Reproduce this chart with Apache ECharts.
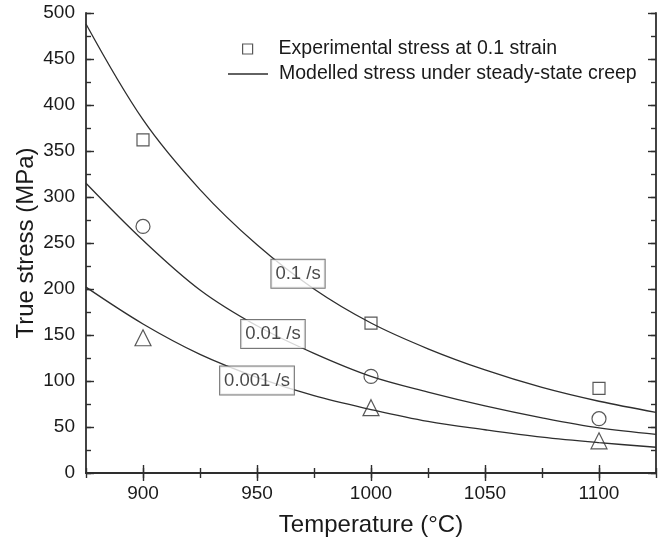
<!DOCTYPE html>
<html>
<head>
<meta charset="utf-8">
<script src="https://cdn.jsdelivr.net/npm/echarts@6/dist/echarts.min.js"></script>
<style>
  html, body { margin: 0; padding: 0; background: #fff; }
  #chart { width: 669px; height: 544px; }
</style>
</head>
<body>
<div id="chart"></div>
<script>
// Temperatures (°C) at which the modelled curves are sampled
const curveTemps = [875, 900, 925, 950, 975, 1000, 1025, 1050, 1075, 1100, 1125];
// Modelled stress under steady-state creep (MPa) for each strain rate
const model01 = [488, 384, 308, 248, 200, 163, 135, 112, 93, 78, 66];
const model001 = [315, 253, 199, 160, 130, 105, 88, 73, 60, 49, 42];
const model0001 = [202, 162, 129, 104, 84, 69, 56, 47, 39, 33, 28];

// Experimental stress at 0.1 strain (MPa)
const testTemps = [900, 1000, 1100];
const exp01 = [362, 163, 92];
const exp001 = [268, 105, 59];
const exp0001 = [147, 71, 35];

// Strain-rate captions and where they sit (temperature, stress)
const rateLabels = ['0.1 /s', '0.01 /s', '0.001 /s'];
const rateLabelTemps = [968, 957, 950];
const rateLabelStress = [216.5, 151, 100.5];

// Axis ticks
const xMajorTicks = [900, 950, 1000, 1050, 1100];

const INK = '#2e2e2e';
const TEXT = '#1a1a1a';
const FONT = '"Liberation Sans", Arial, sans-serif';
const MODEL_NAME = 'Modelled stress under steady-state creep';
const EXP_NAME = 'Experimental stress at 0.1 strain';

const pairs = (xs, ys) => xs.map((x, i) => [x, ys[i]]);

function lineSeries(values) {
  return {
    type: 'line', name: MODEL_NAME, xAxisIndex: 0, yAxisIndex: 0,
    data: pairs(curveTemps, values), smooth: 0.35, symbol: 'none',
    lineStyle: { color: INK, width: 1.3 }, itemStyle: { color: INK }, z: 2
  };
}

function markerSeries(name, symbol, size, values) {
  return {
    type: 'scatter', name: name, xAxisIndex: 0, yAxisIndex: 0,
    data: pairs(testTemps, values), symbol: symbol, symbolSize: size,
    itemStyle: { color: 'rgba(0,0,0,0)', borderColor: INK, borderWidth: 1.2 }, z: 3
  };
}

const labelData = rateLabels.map((t, i) => ({ value: [rateLabelTemps[i], rateLabelStress[i]], text: t }));

const tickStyle = { color: INK, width: 1.4 };
const axisLineStyle = { lineStyle: { color: INK, width: 1.8 } };

// x axes: minor ticks every 25 °C, major ticks every 50 °C, mirrored on top
function xAxisMinor(position, extra) {
  return Object.assign({
    type: 'value', min: 875, max: 1125, interval: 25, position: position,
    splitLine: { show: false }, axisLine: axisLineStyle,
    axisTick: { inside: true, length: 5, lineStyle: tickStyle },
    axisLabel: { show: false }
  }, extra || {});
}
function xAxisMajor(position) {
  return {
    type: 'value', min: 875, max: 1125, position: position,
    splitLine: { show: false }, axisLine: { show: false },
    axisTick: { inside: true, length: 8, customValues: xMajorTicks, lineStyle: tickStyle },
    axisLabel: { show: false }
  };
}
// y axes: minor ticks every 25 MPa, major every 50 MPa, mirrored on the right
function yAxisMajor(position, extra) {
  return Object.assign({
    type: 'value', min: 0, max: 500, interval: 50, position: position,
    splitLine: { show: false }, axisLine: axisLineStyle,
    axisTick: { inside: true, length: 8, lineStyle: tickStyle },
    axisLabel: { show: false }
  }, extra || {});
}
function yAxisMinor(position) {
  return {
    type: 'value', min: 0, max: 500, interval: 25, position: position,
    splitLine: { show: false }, axisLine: { show: false },
    axisTick: { inside: true, length: 5, lineStyle: tickStyle },
    axisLabel: { show: false }
  };
}

const option = {
  animation: false,
  backgroundColor: '#fff',
  textStyle: { fontFamily: FONT },
  grid: { left: 86, right: 13, top: 13, bottom: 71 },
  legend: [
    {
      data: [{ name: EXP_NAME, icon: 'rect', itemStyle: { color: 'rgba(0,0,0,0)', borderColor: INK, borderWidth: 1.2 } }],
      left: 242, top: 39, padding: 0, itemWidth: 10, itemHeight: 10, selectedMode: false,
      textStyle: { fontFamily: FONT, fontSize: 19.5, color: TEXT, padding: [0, 0, 0, 21] }
    },
    {
      data: [{ name: MODEL_NAME, icon: 'rect', itemStyle: { color: INK } }],
      left: 228, top: 64, padding: 0, itemWidth: 40, itemHeight: 1.3, selectedMode: false,
      textStyle: { fontFamily: FONT, fontSize: 19.5, color: TEXT, padding: [0, 0, 0, 6] }
    }
  ],
  xAxis: [
    xAxisMinor('bottom', {
      name: 'Temperature (°C)', nameLocation: 'middle', nameGap: 40,
      nameTextStyle: { fontFamily: FONT, fontSize: 24, color: TEXT },
      axisLabel: {
        show: true, fontFamily: FONT, fontSize: 19, color: TEXT, margin: 11,
        formatter: (v) => (v % 50 === 0 ? String(v) : '')
      }
    }),
    xAxisMajor('bottom'),
    xAxisMinor('top'),
    xAxisMajor('top')
  ],
  yAxis: [
    yAxisMajor('left', {
      name: 'True stress (MPa)', nameLocation: 'middle', nameGap: 48, nameRotate: 90,
      nameMoveOverlap: false,
      nameTextStyle: { fontFamily: FONT, fontSize: 24, color: TEXT },
      axisLabel: { show: true, fontFamily: FONT, fontSize: 19, color: TEXT, margin: 11 }
    }),
    yAxisMinor('left'),
    yAxisMajor('right'),
    yAxisMinor('right')
  ],
  series: [
    lineSeries(model01),
    lineSeries(model001),
    lineSeries(model0001),
    markerSeries(EXP_NAME, 'rect', 12, exp01),
    markerSeries('0.01 /s experimental', 'circle', 14, exp001),
    markerSeries('0.001 /s experimental', 'triangle', 16, exp0001),
    {
      type: 'scatter', name: 'rate captions', xAxisIndex: 0, yAxisIndex: 0,
      data: labelData, symbol: 'circle', symbolSize: 1,
      itemStyle: { color: 'rgba(0,0,0,0)' }, z: 5,
      label: {
        show: true, position: 'inside',
        formatter: (p) => p.data.text,
        fontFamily: FONT, fontSize: 18.5, color: TEXT,
        backgroundColor: '#fff', borderColor: '#555', borderWidth: 1,
        padding: [5, 4, 4, 4]
      }
    }
  ]
};

const chart = echarts.init(document.getElementById('chart'), null, { renderer: 'canvas' });
chart.setOption(option);
</script>
</body>
</html>
